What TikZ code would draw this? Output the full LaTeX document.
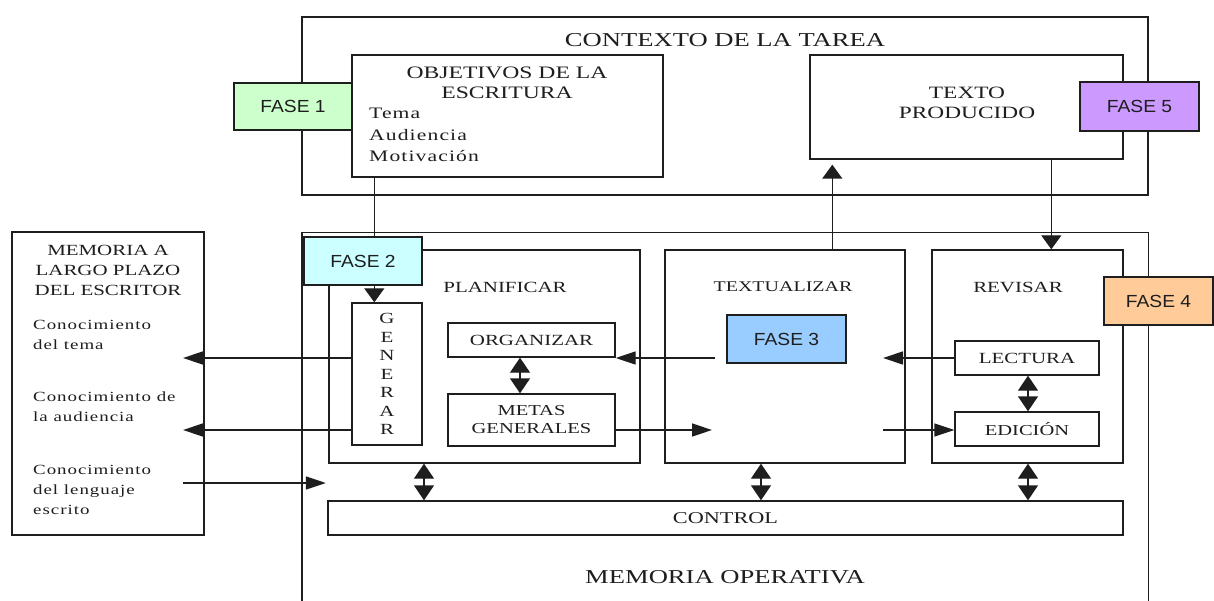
\documentclass[tikz,border=0pt]{standalone}
\usepackage{fontspec}
\setmainfont{Liberation Serif}[FakeStretch=1.35]
\newfontfamily\srl{Liberation Serif}[FakeStretch=1.35,LetterSpace=7]
\newfontfamily\sansf{Liberation Sans}[FakeStretch=1.1]
\usetikzlibrary{arrows.meta}
\definecolor{fgreen}{HTML}{CCFFCC}
\definecolor{fcyan}{HTML}{CCFFFF}
\definecolor{fblue}{HTML}{99CCFF}
\definecolor{forange}{HTML}{FFCC99}
\definecolor{fpurple}{HTML}{CC99FF}
\definecolor{ink}{HTML}{1E1E1E}
\newcommand\setfs[2]{\fontsize{#1}{#2}\selectfont}
\begin{document}
\begin{tikzpicture}[x=1pt,y=-1pt,
  every node/.style={text=ink},
  box/.style={draw=ink, line width=1.4pt, rectangle, inner sep=0pt},
  fase/.style={box, font=\sansf\setfs{17.5}{20}},
  lbl/.style={inner sep=0pt, font=\setfs{15.5}{18}},
  harr/.style={draw=ink, line width=1.4pt, -{Triangle[length=20pt,width=13pt]}},
  varr/.style={draw=ink, line width=1.4pt, -{Triangle[length=14pt,width=20pt]}},
  darr/.style={draw=ink, line width=1.4pt, {Triangle[length=15pt,width=20pt]}-{Triangle[length=15pt,width=20pt]}}
]
\fill[white] (0,0) rectangle (1214,601);
\useasboundingbox (0,0) rectangle (1214,601);

% ---- Contexto de la tarea
\node[box, minimum width=846pt, minimum height=178pt] (ctx) at (725,106) {};
\node[lbl, font=\setfs{19.7}{22}] (ctxt) at (725,40) {CONTEXTO DE LA TAREA};
\node[box, minimum width=311pt, minimum height=122pt] (obj) at (507.5,116) {};
\node[lbl, align=center, font=\setfs{17.5}{20}] (objt) at (507,83) {OBJETIVOS DE LA\\ESCRITURA};
\node[lbl, align=left, anchor=west, font=\srl\setfs{16}{21.5}] (objl) at (369,135) {Tema\\Audiencia\\Motivación};
\node[box, minimum width=313pt, minimum height=104pt] (txt) at (966.5,107) {};
\node[lbl, align=center, font=\setfs{17.3}{20}] (txtt) at (967,103) {TEXTO\\PRODUCIDO};
\node[fase, fill=fgreen, minimum width=118pt, minimum height=47pt] (f1) at (293,106.5) {FASE 1};
\node[fase, fill=fpurple, minimum width=119pt, minimum height=49pt] (f5) at (1139.5,106.5) {FASE 5};

% ---- Memoria operativa (open at the bottom)
\node[minimum width=846pt, minimum height=368pt, inner sep=0pt] (memop) at (725,417) {};
\draw[ink, line width=1.4pt] (memop.south west) -- (memop.north west) -- (memop.north east) -- (memop.south east);
\node[lbl, font=\setfs{19.7}{22}] (memopt) at (725,577) {MEMORIA OPERATIVA};

% ---- Memoria a largo plazo
\node[box, minimum width=192pt, minimum height=303pt] (memlp) at (108,383.5) {};
\node[lbl, align=center, font=\setfs{15.5}{20}] (memlpt) at (108,270) {MEMORIA A\\LARGO PLAZO\\DEL ESCRITOR};
\node[lbl, align=left, anchor=west, font=\srl\setfs{14}{20}] (c1) at (33,335) {Conocimiento\\del tema};
\node[lbl, align=left, anchor=west, font=\srl\setfs{14}{20}] (c2) at (33,407) {Conocimiento de\\la audiencia};
\node[lbl, align=left, anchor=west, font=\srl\setfs{14}{20}] (c3) at (33,490) {Conocimiento\\del lenguaje\\escrito};

% ---- Processes
\node[box, minimum width=311pt, minimum height=213pt] (plan) at (484.5,356.5) {};
\node[lbl] (plant) at (505,287) {PLANIFICAR};
\node[box, minimum width=240pt, minimum height=213pt] (textu) at (785,356.5) {};
\node[lbl, font=\setfs{14.8}{18}] (textut) at (783,287) {TEXTUALIZAR};
\node[box, minimum width=191pt, minimum height=213pt] (rev) at (1027.5,356.5) {};
\node[lbl] (revt) at (1018,287) {REVISAR};

\node[box, minimum width=70pt, minimum height=142pt, align=center, font=\setfs{15.5}{18.5}] (gen) at (387,374) {G\\E\\N\\E\\R\\A\\R};
\node[box, minimum width=167pt, minimum height=34pt, font=\setfs{15.5}{18}] (org) at (531.5,340) {ORGANIZAR};
\node[box, minimum width=167pt, minimum height=52pt, align=center, font=\setfs{15.2}{18}] (metas) at (531.5,420) {METAS\\GENERALES};
\node[box, minimum width=144pt, minimum height=34pt, font=\setfs{15.5}{18}] (lect) at (1027,358) {LECTURA};
\node[box, minimum width=144pt, minimum height=34pt, font=\setfs{15.2}{18}] (edic) at (1027,429) {EDICIÓN};
\node[box, minimum width=795pt, minimum height=34pt, font=\setfs{16.5}{18}] (ctrl) at (725.5,518) {CONTROL};
\node[fase, fill=fblue, minimum width=119pt, minimum height=48pt] (f3) at (786.5,339) {FASE 3};

% ---- free ends of connectors
\coordinate (k1) at (183,358);
\coordinate (k2) at (183,430);
\coordinate (k3) at (183,483);
\coordinate (t1) at (715,358);
\coordinate (t2) at (712,430);
\coordinate (t3) at (883,358);
\coordinate (t4) at (883,430);

% ---- connectors
\draw[varr] ([xshift=23pt]obj.south west) -- ([xshift=23pt]gen.north west);
\draw[varr, shorten >=5pt] ([xshift=168pt]textu.north west) -- ([xshift=23pt]txt.south west);
\draw[varr] ([xshift=242pt]txt.south west) -- ([xshift=120pt]rev.north west);
\draw[harr] (gen.west |- k1) -- (k1);
\draw[harr] (gen.west |- k2) -- (k2);
\draw[harr] (k3) -- ([xshift=24pt]memop.west |- k3);
\draw[harr] (t1) -- (org.east |- t1);
\draw[harr] (metas.east |- t2) -- (t2);
\draw[harr] (lect.west) -- (t3);
\draw[harr] (t4) -- (edic.west |- t4);
\draw[darr] ([xshift=-11.5pt]org.south) -- ([xshift=-11.5pt]metas.north);
\draw[darr] ([xshift=1pt]lect.south) -- ([xshift=1pt]edic.north);
\draw[darr] ([xshift=-60.5pt]plan.south) -- ([xshift=-60.5pt]plan.south |- ctrl.north);
\draw[darr] ([xshift=-24pt]textu.south) -- ([xshift=-24pt]textu.south |- ctrl.north);
\draw[darr] ([xshift=0.5pt]rev.south) -- ([xshift=0.5pt]rev.south |- ctrl.north);

% ---- phase labels drawn on top
\node[fase, fill=fcyan, minimum width=118pt, minimum height=48pt] (f2) at (363,261) {FASE 2};
\node[fase, fill=forange, minimum width=109pt, minimum height=48pt] (f4) at (1158.5,301) {FASE 4};
\end{tikzpicture}
\end{document}
